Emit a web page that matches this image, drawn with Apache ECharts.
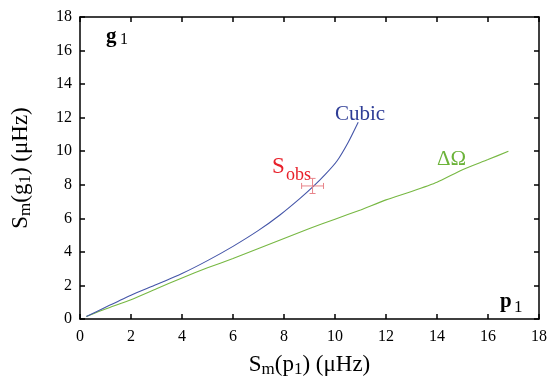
<!DOCTYPE html>
<html><head><meta charset="utf-8">
<script src="https://cdn.jsdelivr.net/npm/echarts@6/dist/echarts.min.js"></script>
<style>html,body{margin:0;padding:0;background:#fff}#c{width:550px;height:383px}</style>
</head><body><div id="c"></div>
<script>
// Data
var cubicX = [0.25, 1.0, 2.0, 3.0, 4.0, 5.0, 6.0, 7.0, 7.84, 8.63, 9.15, 9.61, 10.07, 10.52, 10.91];
var cubicY = [0.15, 0.7, 1.42, 2.05, 2.71, 3.48, 4.33, 5.28, 6.2, 7.19, 7.9, 8.6, 9.4, 10.54, 11.73];
var omegaX = [0.25, 1.0, 2.0, 3.0, 4.0, 5.0, 6.0, 7.0, 8.0, 9.0, 10.0, 11.0, 12.0, 13.0, 14.0, 15.0, 16.0, 16.8];
var omegaY = [0.15, 0.6, 1.15, 1.8, 2.45, 3.05, 3.6, 4.2, 4.8, 5.4, 5.95, 6.5, 7.1, 7.6, 8.15, 8.9, 9.5, 10.0];
var obsX = [9.12], obsY = [7.93], obsXErr = [0.43], obsYErr = [0.45];
var tickValues = [0, 2, 4, 6, 8, 10, 12, 14, 16, 18];

function pairs(xs, ys) { return xs.map(function (x, i) { return [x, ys[i]]; }); }

var FONT = '"Liberation Serif", "DejaVu Serif", serif';
var subStyle = { fontFamily: FONT, fontSize: 17, padding: [10, 0, 0, 0], color: '#000' };
var mainStyle = { fontFamily: FONT, fontSize: 23, color: '#000' };

var axisCommon = {
  min: 0, max: 18, interval: 2,
  axisLine: { show: true, onZero: false, lineStyle: { color: '#000', width: 1.5 } },
  axisTick: { show: true, inside: true, length: 5, lineStyle: { color: '#000', width: 1.5 } },
  splitLine: { show: false },
  axisLabel: { fontFamily: FONT, fontSize: 16, color: '#000', formatter: function (v) { return tickValues.indexOf(v) >= 0 ? String(v) : ''; } }
};

var chart = echarts.init(document.getElementById('c'), null, { renderer: 'canvas' });
chart.setOption({
  animation: false,
  backgroundColor: '#fff',
  grid: { left: 80, top: 17, right: 11, bottom: 62 },
  xAxis: [
    Object.assign({}, axisCommon, {
      type: 'value', position: 'bottom',
      axisLabel: Object.assign({}, axisCommon.axisLabel, { margin: 10 }),
      name: '{m|S}{s|m}{m|(p}{s|1}{m|) (μHz)}', nameLocation: 'middle', nameGap: 32,
      nameTextStyle: { rich: { m: mainStyle, s: subStyle } }
    }),
    Object.assign({}, axisCommon, { type: 'value', position: 'top', axisLabel: { show: false } })
  ],
  yAxis: [
    Object.assign({}, axisCommon, {
      type: 'value', position: 'left',
      axisLabel: Object.assign({}, axisCommon.axisLabel, { margin: 8 }),
      name: '{m|S}{s|m}{m|(g}{s|1}{m|) (μHz)}', nameLocation: 'middle', nameGap: 46, nameRotate: 90,
      nameTextStyle: { rich: { m: mainStyle, s: subStyle } }
    }),
    Object.assign({}, axisCommon, { type: 'value', position: 'right', axisLabel: { show: false } })
  ],
  series: [
    { type: 'line', data: pairs(cubicX, cubicY), showSymbol: false, symbol: 'none', smooth: 0.2,
      lineStyle: { color: '#4455a8', width: 1.1 }, z: 3 },
    { type: 'line', data: pairs(omegaX, omegaY), showSymbol: false, symbol: 'none', smooth: 0.2,
      lineStyle: { color: '#77b843', width: 1.1 }, z: 2 },
    { type: 'custom', z: 4,
      data: obsX.map(function (x, i) { return [x, obsY[i], obsXErr[i], obsYErr[i]]; }),
      renderItem: function (params, api) {
        var x = api.value(0), y = api.value(1), ex = api.value(2), ey = api.value(3);
        var l = api.coord([x - ex, y]), r = api.coord([x + ex, y]);
        var t = api.coord([x, y + ey]), b = api.coord([x, y - ey]);
        var st = { stroke: '#e8848a', lineWidth: 1 };
        var cap = 3;
        return { type: 'group', children: [
          { type: 'line', shape: { x1: l[0], y1: l[1], x2: r[0], y2: r[1] }, style: st },
          { type: 'line', shape: { x1: t[0], y1: t[1], x2: b[0], y2: b[1] }, style: st },
          { type: 'line', shape: { x1: l[0], y1: l[1] - cap, x2: l[0], y2: l[1] + cap }, style: st },
          { type: 'line', shape: { x1: r[0], y1: r[1] - cap, x2: r[0], y2: r[1] + cap }, style: st },
          { type: 'line', shape: { x1: t[0] - cap, y1: t[1], x2: t[0] + cap, y2: t[1] }, style: st },
          { type: 'line', shape: { x1: b[0] - cap, y1: b[1], x2: b[0] + cap, y2: b[1] }, style: st }
        ] };
      }
    }
  ],
  graphic: [
    { type: 'text', left: 106, top: 26, style: { text: 'g', fontFamily: FONT, fontSize: 21, fontWeight: 'bold', fill: '#000' } },
    { type: 'text', left: 120, top: 32, style: { text: '1', fontFamily: FONT, fontSize: 16, fill: '#000' } },
    { type: 'text', left: 500, top: 291, style: { text: 'p', fontFamily: FONT, fontSize: 21, fontWeight: 'bold', fill: '#000' } },
    { type: 'text', left: 514, top: 299, style: { text: '1', fontFamily: FONT, fontSize: 17, fill: '#000' } },
    { type: 'text', left: 335, top: 104, style: { text: 'Cubic', fontFamily: FONT, fontSize: 21, fill: '#2e3d96' } },
    { type: 'text', left: 437, top: 149, style: { text: 'ΔΩ', fontFamily: FONT, fontSize: 21, fill: '#6cb33a' } },
    { type: 'text', left: 272, top: 155, style: { text: 'S', fontFamily: FONT, fontSize: 23, fill: '#e8202a' } },
    { type: 'text', left: 286, top: 166, style: { text: 'obs', fontFamily: FONT, fontSize: 18, fill: '#e8202a' } }
  ]
});
</script></body></html>
